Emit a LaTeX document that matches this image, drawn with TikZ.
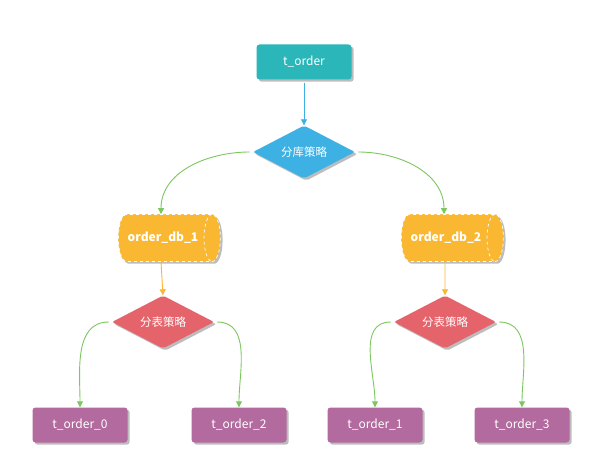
\documentclass[tikz,border=0pt]{standalone}
\usepackage{fontspec}
\setmainfont{Noto Sans CJK SC}
\usetikzlibrary{shapes.geometric,shadows,arrows.meta}
\definecolor{cteal}{HTML}{2BB6B9}
\definecolor{cblue}{HTML}{3DB1E4}
\definecolor{corange}{HTML}{F9B732}
\definecolor{cred}{HTML}{E5636B}
\definecolor{cpurple}{HTML}{B36A9E}
\definecolor{cgreen}{HTML}{7CC75E}
\definecolor{cshadow}{HTML}{BDBDBD}
\tikzset{
  shad/.style={drop shadow={shadow xshift=2.2pt,shadow yshift=-2.2pt,fill=cshadow,opacity=1}},
  boxnode/.style={rectangle,rounded corners=3pt,minimum width=95pt,minimum height=35pt,text=white,font=\fontsize{12}{14}\selectfont,shad},
  decide/.style={diamond,aspect=1.9,rounded corners=2pt,minimum width=102pt,minimum height=53pt,inner sep=0pt,text=white,font=\fontsize{11.5}{13}\selectfont,shad},
  dbnode/.style={cylinder,shape border rotate=0,aspect=0.9,minimum width=47pt,minimum height=102pt,draw=white,dashed,line width=0.7pt,fill=corange,cylinder uses custom fill,cylinder body fill=corange,cylinder end fill=corange,text=white,font=\bfseries\fontsize{12}{14}\selectfont,shad},
  conn/.style={line width=0.9pt,-{Triangle[length=6pt,width=6pt]}},
}
\begin{document}
\begin{tikzpicture}[x=1pt,y=-1pt]
\useasboundingbox[fill=white] (0,0) rectangle (608,462);
\node[boxnode,fill=cteal] (top) at (304,62) {t\_order};
\node[decide,fill=cblue] (d0) at (304,152) {分库策略};
\node[dbnode] (db1) at (163,238) {order\_db\_1};
\node[dbnode] (db2) at (446,238) {order\_db\_2};
\node[decide,fill=cred] (d1) at (163,322) {分表策略};
\node[decide,fill=cred] (d2) at (445,322) {分表策略};
\node[boxnode,fill=cpurple] (t0) at (80,425) {t\_order\_0};
\node[boxnode,fill=cpurple] (t2) at (239,425) {t\_order\_2};
\node[boxnode,fill=cpurple] (t1) at (375,425) {t\_order\_1};
\node[boxnode,fill=cpurple] (t3) at (522,425) {t\_order\_3};
\draw[conn,cblue] (top.south) ++(0,3) -- (d0.north);
\draw[conn,cgreen] ([xshift=-3pt]d0.west) to[out=180,in=90] ([xshift=-2pt]db1.north);
\draw[conn,cgreen] ([xshift=3pt]d0.east) to[out=0,in=90] ([xshift=-2pt]db2.north);
\draw[conn,corange] ([xshift=-2pt]db1.south) -- (d1.north);
\draw[conn,corange] ([xshift=-1pt]db2.south) -- (d2.north);
\draw[conn,cgreen] ([xshift=-3pt]d1.west) to[out=180,in=90] (t0.north);
\draw[conn,cgreen] ([xshift=3pt]d1.east) to[out=0,in=90] (t2.north);
\draw[conn,cgreen] ([xshift=-3pt]d2.west) to[out=180,in=90] (t1.north);
\draw[conn,cgreen] ([xshift=3pt]d2.east) to[out=0,in=90] (t3.north);
\end{tikzpicture}
\end{document}
